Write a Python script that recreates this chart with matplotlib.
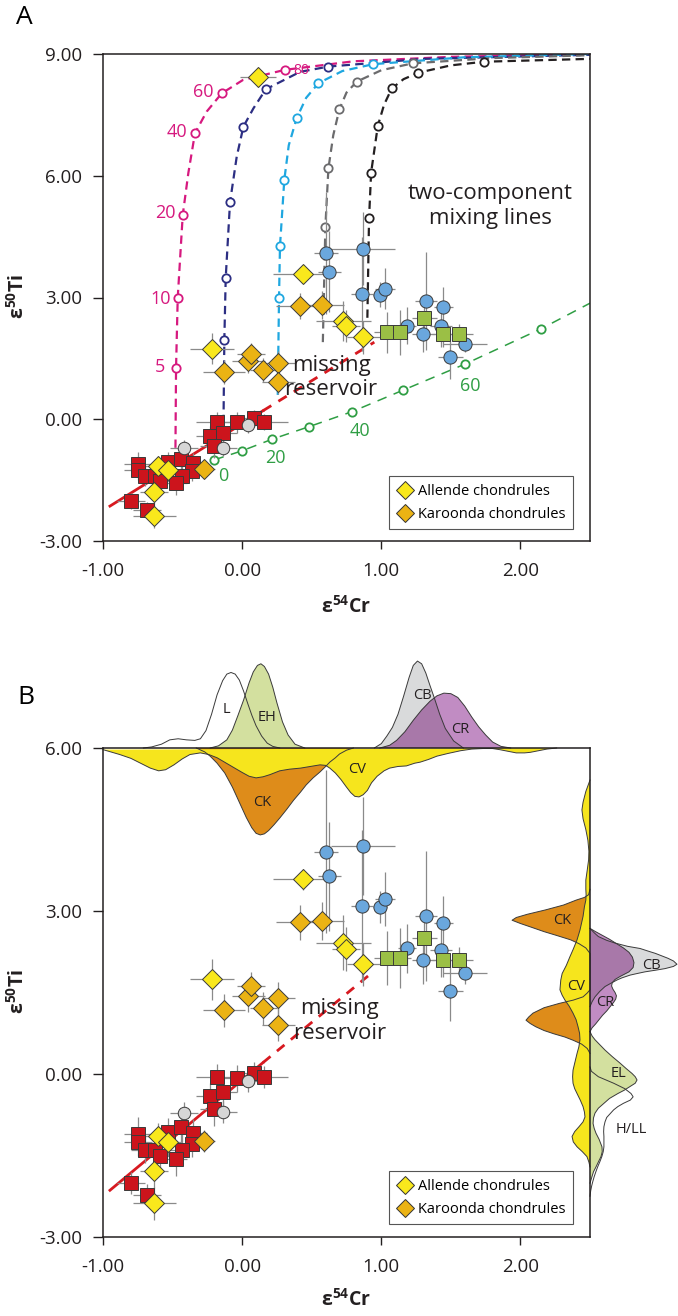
"""Ti-Cr isotope plot of chondrules with mixing lines (A) and marginal densities (B)."""

import matplotlib

matplotlib.use("Agg")
import matplotlib.pyplot as plt
from matplotlib.lines import Line2D
from matplotlib.patches import Polygon
from matplotlib.ticker import FormatStrFormatter
import numpy as np

plt.rcParams["font.family"] = ["Open Sans", "DejaVu Sans"]
plt.rcParams["mathtext.fontset"] = "custom"
plt.rcParams["mathtext.rm"] = "Open Sans"
plt.rcParams["mathtext.bf"] = "Open Sans:bold"
plt.rcParams["axes.unicode_minus"] = False
plt.rcParams["lines.scale_dashes"] = False

# ---- sample data (eps54Cr, eps50Ti) ----
red_x = [-0.183, -0.039, 0.086, 0.160, -0.231, -0.140, -0.200, -0.751, -0.751, -0.698,
         -0.626, -0.590, -0.530, -0.439, -0.355, -0.362, -0.434, -0.475, -0.799, -0.686]
red_y = [-0.06, -0.08, 0.02, -0.06, -0.41, -0.34, -0.65, -1.10, -1.25, -1.39,
         -1.39, -1.51, -1.06, -0.97, -1.08, -1.28, -1.40, -1.57, -2.01, -2.23]
red_xerr = [0.15, 0.15, 0.12, 0.17, 0.10, 0.10, 0.10, 0.10, 0.10, 0.10,
            0.10, 0.10, 0.10, 0.10, 0.10, 0.10, 0.10, 0.08, 0.10, 0.10]
red_yerr = [0.25, 0.25, 0.20, 0.20, 0.25, 0.25, 0.30, 0.30, 0.25, 0.25,
            0.25, 0.30, 0.25, 0.30, 0.25, 0.25, 0.30, 0.30, 0.20, 0.20]

grey_x = [-0.416, -0.140, 0.045]
grey_y = [-0.72, -0.70, -0.13]
grey_xerr = [0.10, 0.10, 0.10]
grey_yerr = [0.20, 0.20, 0.20]

blue_x = [0.603, 0.627, 0.871, 0.864, 0.991, 1.027, 1.320, 1.447, 1.183, 1.430, 1.303, 1.602, 1.495]
blue_y = [4.09, 3.64, 4.20, 3.09, 3.07, 3.22, 2.91, 2.77, 2.31, 2.29, 2.10, 1.86, 1.53]
blue_xerr = [0.084, 0.084, 0.23, 0.08, 0.05, 0.07, 0.08, 0.07, 0.065, 0.08, 0.08, 0.156, 0.09]
blue_yerr = [1.50, 1.00, 0.90, 1.40, 0.30, 0.50, 1.20, 0.50, 0.45, 0.50, 0.45, 0.20, 0.55]

green_x = [1.039, 1.135, 1.308, 1.441, 1.559]
green_y = [2.14, 2.14, 2.50, 2.09, 2.09]
green_xerr = [0.09, 0.08, 0.09, 0.08, 0.10]
green_yerr = [0.50, 0.55, 0.30, 0.30, 0.25]

karoonda_x = [0.416, 0.572, -0.128, 0.045, 0.062, 0.153, 0.260, 0.260, -0.274]
karoonda_y = [2.79, 2.82, 1.17, 1.44, 1.62, 1.21, 1.39, 0.91, -1.23]
karoonda_xerr = [0.17, 0.16, 0.15, 0.12, 0.10, 0.10, 0.12, 0.12, 0.08]
karoonda_yerr = [0.32, 0.35, 0.30, 0.30, 0.25, 0.30, 0.30, 0.30, 0.20]

allende_x = [0.114, 0.440, 0.728, 0.748, 0.872, -0.218, -0.602, -0.530, -0.631, -0.631]
allende_y = [8.44, 3.58, 2.42, 2.30, 2.02, 1.74, -1.15, -1.25, -1.79, -2.38]
allende_xerr = [0.13, 0.215, 0.20, 0.10, 0.12, 0.156, 0.10, 0.10, 0.10, 0.155]
allende_yerr = [0.25, 0.20, 0.50, 0.40, 0.40, 0.38, 0.25, 0.25, 0.30, 0.30]

# regression line through the NC-like chondrules (solid) and its extension (dashed)
red_line_x = [-0.95, 0.15, 0.95]
red_line_y = [-2.14, 0.21, 1.90]

# ---- two-component mixing lines (panel A) ----
pink_path_x = [-0.480, -0.475, -0.463, -0.427, -0.387, -0.339, -0.255, -0.147, 0.006, 0.308, 0.80, 1.50, 2.50]
pink_path_y = [-1.04, 1.27, 2.99, 5.03, 6.06, 7.05, 7.58, 8.03, 8.36, 8.61, 8.82, 8.93, 9.00]
pink_mark_x = [-0.475, -0.463, -0.427, -0.339, -0.147, 0.308]
pink_mark_y = [1.27, 2.99, 5.03, 7.05, 8.03, 8.61]
pink_labels = ["5", "10", "20", "40", "60", "80"]
pink_label_x = [-0.590, -0.583, -0.554, -0.470, -0.279, 0.428]
pink_label_y = [1.28, 2.96, 5.08, 7.09, 8.07, 8.59]

navy_path_x = [-0.135, -0.128, -0.118, -0.087, -0.039, 0.009, 0.081, 0.170, 0.416, 0.620, 1.30, 2.50]
navy_path_y = [-0.43, 1.96, 3.49, 5.35, 6.47, 7.21, 7.66, 8.13, 8.56, 8.69, 8.88, 8.98]
navy_mark_x = [-0.128, -0.118, -0.087, 0.009, 0.170, 0.620]
navy_mark_y = [1.96, 3.49, 5.35, 7.21, 8.13, 8.69]

cyan_path_x = [0.256, 0.265, 0.272, 0.303, 0.335, 0.392, 0.460, 0.548, 0.720, 0.943, 1.60, 2.50]
cyan_path_y = [0.60, 2.98, 4.27, 5.90, 6.75, 7.42, 7.92, 8.28, 8.58, 8.75, 8.92, 9.00]
cyan_mark_x = [0.265, 0.272, 0.303, 0.392, 0.548, 0.943]
cyan_mark_y = [2.98, 4.27, 5.90, 7.42, 8.28, 8.75]

mgrey_path_x = [0.580, 0.598, 0.620, 0.655, 0.699, 0.750, 0.824, 1.000, 1.226, 1.80, 2.50]
mgrey_path_y = [1.90, 4.73, 6.18, 7.00, 7.64, 8.05, 8.32, 8.60, 8.77, 8.90, 8.97]
mgrey_mark_x = [0.598, 0.620, 0.699, 0.824, 1.226]
mgrey_mark_y = [4.73, 6.18, 7.64, 8.32, 8.77]

black_path_x = [0.900, 0.912, 0.927, 0.975, 1.020, 1.075, 1.160, 1.267, 1.500, 1.739, 2.50]
black_path_y = [2.50, 4.95, 6.08, 7.23, 7.75, 8.15, 8.38, 8.54, 8.72, 8.81, 8.88]
black_mark_x = [0.912, 0.927, 0.975, 1.075, 1.267, 1.739]
black_mark_y = [4.95, 6.08, 7.23, 8.15, 8.54, 8.81]

mgreen_mark_x = [-0.200, -0.003, 0.217, 0.483, 0.792, 1.159, 1.602, 2.149]
mgreen_mark_y = [-1.00, -0.78, -0.49, -0.18, 0.19, 0.72, 1.36, 2.23]
mgreen_end = (2.50, 2.86)
mgreen_labels = ["0", "20", "40", "60"]
mgreen_label_x = [-0.139, 0.241, 0.843, 1.638]
mgreen_label_y = [-1.39, -0.96, -0.30, 0.82]

# ---- marginal densities (panel B) ----
# top: x = eps54Cr, h = height above the 6.00 line (upward) or depth below it (downward)
top_L_x = [-0.71, -0.65, -0.58, -0.52, -0.46, -0.40, -0.34, -0.30, -0.26, -0.22, -0.18, -0.14,
           -0.11, -0.08, -0.05, -0.02, 0.01, 0.04, 0.07, 0.10, 0.14, 0.18, 0.22, 0.27]
top_L_h = [0, 0.02, 0.07, 0.15, 0.17, 0.15, 0.14, 0.17, 0.32, 0.62, 0.98, 1.24,
           1.36, 1.39, 1.36, 1.25, 1.05, 0.82, 0.60, 0.41, 0.22, 0.09, 0.03, 0]
top_EH_x = [-0.23, -0.17, -0.11, -0.07, -0.03, 0.01, 0.05, 0.08, 0.11, 0.135, 0.16, 0.19,
            0.22, 0.25, 0.29, 0.33, 0.38, 0.45]
top_EH_h = [0, 0.04, 0.15, 0.33, 0.60, 0.88, 1.20, 1.40, 1.52, 1.55, 1.50, 1.36,
            1.12, 0.83, 0.48, 0.24, 0.07, 0]
top_CB_x = [0.95, 1.00, 1.04, 1.08, 1.12, 1.16, 1.20, 1.23, 1.26, 1.29, 1.32, 1.35,
            1.38, 1.42, 1.46, 1.52, 1.59]
top_CB_h = [0, 0.08, 0.22, 0.38, 0.62, 0.95, 1.30, 1.52, 1.60, 1.55, 1.38, 1.15,
            0.93, 0.62, 0.36, 0.13, 0]
top_CR_x = [0.99, 1.06, 1.11, 1.17, 1.23, 1.29, 1.35, 1.40, 1.45, 1.50, 1.55, 1.60,
            1.65, 1.70, 1.75, 1.80, 1.86, 1.93]
top_CR_h = [0, 0.05, 0.14, 0.30, 0.51, 0.70, 0.86, 0.96, 1.01, 1.00, 0.93, 0.77,
            0.57, 0.39, 0.24, 0.11, 0.03, 0]
top_CV_x = [-1.0, -0.88, -0.80, -0.73, -0.66, -0.60, -0.55, -0.49, -0.43, -0.375, -0.30, -0.24,
            -0.18, -0.12, -0.06, 0.00, 0.05, 0.10, 0.15, 0.20, 0.27, 0.34, 0.42, 0.49,
            0.56, 0.60, 0.63, 0.67, 0.71, 0.75, 0.78, 0.81, 0.84, 0.87, 0.90, 0.93,
            0.97, 1.02, 1.06, 1.12, 1.18, 1.24, 1.28, 1.34, 1.40, 1.48, 1.57, 1.65,
            1.73, 1.80, 1.85, 1.91, 1.97, 2.03, 2.07, 2.13, 2.19, 2.26]
top_CV_d = [0.03, 0.12, 0.19, 0.28, 0.37, 0.42, 0.40, 0.31, 0.20, 0.12, 0.09, 0.12,
            0.18, 0.27, 0.36, 0.45, 0.52, 0.55, 0.53, 0.49, 0.42, 0.39, 0.37, 0.34,
            0.31, 0.32, 0.37, 0.46, 0.58, 0.72, 0.82, 0.89, 0.90, 0.86, 0.78, 0.64,
            0.52, 0.42, 0.37, 0.34, 0.33, 0.28, 0.26, 0.21, 0.15, 0.10, 0.05, 0.02,
            0.01, 0.01, 0.03, 0.06, 0.09, 0.09, 0.08, 0.05, 0.02, 0]
top_CK_x = [-0.33, -0.27, -0.23, -0.18, -0.125, -0.07, -0.02, 0.03, 0.07, 0.10, 0.13, 0.16,
            0.19, 0.23, 0.27, 0.32, 0.37, 0.42, 0.46, 0.51, 0.56, 0.60, 0.63, 0.67,
            0.70, 0.75, 0.80]
top_CK_d = [0, 0.07, 0.15, 0.28, 0.46, 0.72, 1.00, 1.28, 1.47, 1.57, 1.60, 1.58,
            1.52, 1.41, 1.29, 1.13, 0.96, 0.81, 0.68, 0.55, 0.44, 0.34, 0.26, 0.18,
            0.11, 0.04, 0]

# right: y = eps50Ti, w = width beyond the 2.50 line (rightward) or inside it (leftward)
side_CV_y = [5.41, 5.20, 5.00, 4.86, 4.70, 4.50, 4.30, 4.10, 3.94, 3.75, 3.57, 3.40,
             3.30, 3.20, 3.08, 2.90, 2.65, 2.47, 2.30, 2.16, 2.00, 1.85, 1.73, 1.55,
             1.45, 1.36, 1.25, 1.12, 1.00, 0.87, 0.75, 0.63, 0.50, 0.38, 0.20, 0.07,
             -0.05, -0.17, -0.27, -0.36, -0.48, -0.60, -0.70, -0.79, -0.88, -0.97, -1.06, -1.15,
             -1.25, -1.34, -1.43, -1.52, -1.62, -1.71]
side_CV_w = [0, 0.03, 0.05, 0.058, 0.05, 0.03, 0.015, 0.008, 0.01, 0.02, 0.03, 0.03,
             0.028, 0.03, 0.04, 0.05, 0.072, 0.093, 0.12, 0.144, 0.17, 0.20, 0.21, 0.216,
             0.20, 0.18, 0.15, 0.122, 0.10, 0.086, 0.075, 0.072, 0.08, 0.093, 0.11, 0.122,
             0.125, 0.122, 0.11, 0.093, 0.07, 0.05, 0.04, 0.036, 0.05, 0.079, 0.11, 0.129,
             0.12, 0.093, 0.055, 0.022, 0.008, 0]
side_CK_y = [3.40, 3.30, 3.25, 3.20, 3.11, 3.02, 2.94, 2.88, 2.83, 2.77, 2.70, 2.62,
             2.55, 2.47, 2.40, 2.32, 2.22, 1.55, 1.49, 1.42, 1.36, 1.30, 1.22, 1.12,
             1.05, 0.99, 0.93, 0.87, 0.80, 0.74, 0.68, 0.62, 0.55, 0.47, 0.38]
side_CK_w = [0, 0.01, 0.04, 0.10, 0.19, 0.32, 0.45, 0.53, 0.56, 0.50, 0.42, 0.33,
             0.24, 0.14, 0.08, 0.03, 0, 0, 0.02, 0.05, 0.12, 0.22, 0.33, 0.41,
             0.44, 0.46, 0.43, 0.39, 0.33, 0.26, 0.18, 0.12, 0.06, 0.02, 0]
side_CB_y = [2.68, 2.60, 2.53, 2.46, 2.41, 2.35, 2.31, 2.26, 2.22, 2.17, 2.13, 2.08,
             2.02, 1.98, 1.94, 1.91, 1.88, 1.85, 1.82, 1.77, 1.73, 1.67, 1.61, 1.52,
             1.42, 1.33, 1.24]
side_CB_w = [0, 0.03, 0.06, 0.12, 0.18, 0.27, 0.36, 0.42, 0.47, 0.52, 0.56, 0.60,
             0.625, 0.60, 0.54, 0.47, 0.395, 0.34, 0.288, 0.23, 0.194, 0.15, 0.108, 0.07,
             0.036, 0.015, 0]
side_CR_y = [2.68, 2.62, 2.55, 2.48, 2.40, 2.32, 2.24, 2.15, 2.05, 1.96, 1.88, 1.80,
             1.74, 1.68, 1.62, 1.56, 1.50, 1.44, 1.38, 1.32, 1.24, 1.16, 1.08, 1.00,
             0.92, 0.85, 0.78]
side_CR_w = [0, 0.04, 0.09, 0.14, 0.19, 0.24, 0.28, 0.305, 0.316, 0.31, 0.28, 0.22,
             0.18, 0.16, 0.155, 0.165, 0.18, 0.19, 0.185, 0.17, 0.145, 0.12, 0.09, 0.065,
             0.04, 0.015, 0]
side_EL_y = [0.78, 0.70, 0.63, 0.54, 0.44, 0.32, 0.20, 0.10, 0.01, -0.05, -0.11, -0.17,
             -0.23, -0.30, -0.36, -0.45, -0.54, -0.63, -0.72, -0.81, -0.91, -1.00, -1.09, -1.20,
             -1.34, -1.43, -1.52, -1.62, -1.71, -1.80, -1.89, -2.01]
side_EL_w = [0, 0.015, 0.036, 0.07, 0.108, 0.16, 0.216, 0.26, 0.302, 0.325, 0.338, 0.325,
             0.288, 0.245, 0.20, 0.14, 0.10, 0.06, 0.036, 0.025, 0.022, 0.03, 0.043, 0.065,
             0.086, 0.088, 0.079, 0.06, 0.043, 0.025, 0.014, 0]
side_HLL_y = [0.13, 0.05, -0.05, -0.17, -0.27, -0.36, -0.42, -0.48, -0.54, -0.60, -0.66, -0.73,
              -0.80, -0.88, -0.97, -1.06, -1.15, -1.25, -1.34, -1.43, -1.52, -1.62, -1.71, -1.80,
              -1.89, -1.98, -2.06, -2.15, -2.25]
side_HLL_w = [0, 0.01, 0.06, 0.17, 0.25, 0.295, 0.31, 0.29, 0.24, 0.20, 0.17, 0.145,
              0.12, 0.108, 0.10, 0.098, 0.10, 0.10, 0.10, 0.095, 0.085, 0.07, 0.055, 0.042,
              0.03, 0.02, 0.012, 0.005, 0]

XTICKS = [-1, 0, 1, 2]

RED = "#cc141c"
GREY_PT = "#d6d6d6"
BLUE = "#6aa7dd"
GREEN_SQ = "#9bbf45"
KAROONDA = "#ebb314"
ALLENDE = "#f9e81c"
PINK = "#d6197f"
NAVY = "#2c2e83"
CYAN = "#1fa7e0"
MGREY = "#6b6b6d"
MBLACK = "#231f20"
MGREEN = "#2f9e44"
CV_YELLOW = "#f6e51d"
CK_ORANGE = "#de8c1a"
PALE_GREEN = "#d3e09f"
CB_GREY = "#d9dadb"
CR_LIGHT = "#c18cc3"
CR_DARK = "#a878a9"
INK = "#231f20"


def style_axes(ax, ylim, yticks):
    ax.set_xlim(-1, 2.5)
    ax.set_ylim(*ylim)
    ax.set_xticks(XTICKS)
    ax.set_yticks(yticks)
    ax.xaxis.set_major_formatter(FormatStrFormatter("%.2f"))
    ax.yaxis.set_major_formatter(FormatStrFormatter("%.2f"))
    ax.tick_params(axis="both", direction="out", width=1.0, labelsize=13.5,
                   colors=INK, top=False, right=False)
    ax.tick_params(axis="x", length=6, pad=9)
    ax.tick_params(axis="y", length=7, pad=8)
    for spine in ax.spines.values():
        spine.set_linewidth(1.1)
        spine.set_color(INK)


def draw_points(ax):
    groups = [
        (red_x, red_y, red_xerr, red_yerr, "s", 9.4, RED),
        (grey_x, grey_y, grey_xerr, grey_yerr, "o", 9.0, GREY_PT),
        (blue_x, blue_y, blue_xerr, blue_yerr, "o", 9.5, BLUE),
        (green_x, green_y, green_xerr, green_yerr, "s", 9.5, GREEN_SQ),
        (karoonda_x, karoonda_y, karoonda_xerr, karoonda_yerr, "D", 10.0, KAROONDA),
        (allende_x, allende_y, allende_xerr, allende_yerr, "D", 10.0, ALLENDE),
    ]
    for x, y, xe, ye, *_ in groups:
        ax.errorbar(x, y, xerr=xe, yerr=ye, fmt="none", ecolor="#8a8a8a",
                    elinewidth=0.9, capsize=0, zorder=2.4)
    for x, y, _, _, marker, size, color in groups:
        ax.plot(x, y, ls="none", marker=marker, ms=size, mfc=color,
                mec="#3a3a3a", mew=0.7, zorder=3)
    ax.plot(red_line_x[:2], red_line_y[:2], color="#d71920", lw=2.0, zorder=2.2)
    ax.plot(red_line_x[1:], red_line_y[1:], color="#d71920", lw=2.0,
            dashes=(7, 6), zorder=2.2)


def add_legend(ax, y_anchor):
    handles = [
        Line2D([], [], ls="none", marker="D", ms=9, mfc=ALLENDE, mec="#333333", mew=0.7),
        Line2D([], [], ls="none", marker="D", ms=9, mfc=KAROONDA, mec="#333333", mew=0.7),
    ]
    leg = ax.legend(handles, ["Allende chondrules", "Karoonda chondrules"],
                    loc="lower right", bbox_to_anchor=(0.965, y_anchor),
                    frameon=True, fancybox=False, edgecolor="#555555", framealpha=1,
                    fontsize=10.5, handletextpad=0.3, borderpad=0.5,
                    labelspacing=0.55, handlelength=1.2, borderaxespad=0)
    leg.get_frame().set_linewidth(0.8)


def draw_mixing(ax):
    lines = [
        (pink_path_x, pink_path_y, pink_mark_x, pink_mark_y, PINK),
        (navy_path_x, navy_path_y, navy_mark_x, navy_mark_y, NAVY),
        (cyan_path_x, cyan_path_y, cyan_mark_x, cyan_mark_y, CYAN),
        (mgrey_path_x, mgrey_path_y, mgrey_mark_x, mgrey_mark_y, MGREY),
        (black_path_x, black_path_y, black_mark_x, black_mark_y, MBLACK),
    ]
    for px, py, mx, my, color in lines:
        ax.plot(px, py, color=color, lw=1.6, dashes=(6, 3.8), zorder=1.6)
        ax.plot(mx, my, ls="none", marker="o", ms=6, mfc="white", mec=color,
                mew=1.3, zorder=1.8)
    ax.plot(mgreen_mark_x + [mgreen_end[0]], mgreen_mark_y + [mgreen_end[1]],
            color=MGREEN, lw=1.1, dashes=(7, 5.5), zorder=1.6)
    ax.plot(mgreen_mark_x, mgreen_mark_y, ls="none", marker="o", ms=6,
            mfc="white", mec=MGREEN, mew=1.3, zorder=1.8)
    for text, x, y in zip(pink_labels, pink_label_x, pink_label_y):
        ax.text(x, y, text, color=PINK, ha="center", va="center",
                fontsize=10 if text == "80" else 13)
    for text, x, y in zip(mgreen_labels, mgreen_label_x, mgreen_label_y):
        ax.text(x, y, text, color=MGREEN, ha="center", va="center", fontsize=13)


def kde_patch(ax, verts, color, z):
    patch = Polygon(verts, closed=True, facecolor=color, edgecolor="none",
                    zorder=z, clip_on=False)
    ax.add_patch(patch)
    return patch


def kde_outline(ax, xs, ys):
    ax.plot(xs, ys, color="#3a3a3a", lw=0.7, zorder=1.9, clip_on=False)


def draw_marginals(ax):
    top = 6.0
    edge = 2.5

    def up(xs, hs):
        return list(zip(xs, top + np.asarray(hs)))

    def down(xs, ds):
        return list(zip(xs, top - np.asarray(ds)))

    def right(ys, ws):
        return list(zip(edge + np.asarray(ws), ys))

    def left(ys, ws):
        return list(zip(edge - np.asarray(ws), ys))

    # top margin
    kde_patch(ax, up(top_L_x, top_L_h), "white", 1.0)
    kde_patch(ax, up(top_EH_x, top_EH_h), PALE_GREEN, 1.1)
    cb_top = kde_patch(ax, up(top_CB_x, top_CB_h), CB_GREY, 1.0)
    kde_patch(ax, up(top_CR_x, top_CR_h), CR_LIGHT, 1.1)
    overlap = kde_patch(ax, up(top_CR_x, top_CR_h), CR_DARK, 1.2)
    overlap.set_clip_on(True)
    overlap.set_clip_box(None)
    overlap.set_clip_path(cb_top)
    kde_patch(ax, down(top_CK_x, top_CK_d), CK_ORANGE, 1.0)
    kde_patch(ax, down(top_CV_x, top_CV_d), CV_YELLOW, 1.1)

    # right margin
    kde_patch(ax, left(side_CK_y, side_CK_w), CK_ORANGE, 1.0)
    kde_patch(ax, left(side_CV_y, side_CV_w), CV_YELLOW, 1.1)
    cb_side = kde_patch(ax, right(side_CB_y, side_CB_w), CB_GREY, 1.0)
    kde_patch(ax, right(side_CR_y, side_CR_w), CR_LIGHT, 1.1)
    overlap = kde_patch(ax, right(side_CR_y, side_CR_w), CR_DARK, 1.2)
    overlap.set_clip_on(True)
    overlap.set_clip_box(None)
    overlap.set_clip_path(cb_side)
    kde_patch(ax, right(side_HLL_y, side_HLL_w), "white", 1.0)
    kde_patch(ax, right(side_EL_y, side_EL_w), PALE_GREEN, 1.1)

    for verts in (up(top_L_x, top_L_h), up(top_EH_x, top_EH_h), up(top_CB_x, top_CB_h),
                  up(top_CR_x, top_CR_h), down(top_CK_x, top_CK_d), down(top_CV_x, top_CV_d),
                  left(side_CK_y, side_CK_w), left(side_CV_y, side_CV_w),
                  right(side_CB_y, side_CB_w), right(side_CR_y, side_CR_w),
                  right(side_HLL_y, side_HLL_w), right(side_EL_y, side_EL_w)):
        xs, ys = zip(*verts)
        kde_outline(ax, xs, ys)

    labels = [("L", -0.111, 6.70), ("EH", 0.177, 6.56), ("CB", 1.298, 6.96),
              ("CR", 1.567, 6.34), ("CV", 0.824, 5.60), ("CK", 0.141, 4.99),
              ("CK", 2.297, 2.82), ("CB", 2.94, 2.00), ("CV", 2.40, 1.61),
              ("CR", 2.609, 1.32), ("EL", 2.705, 0.01), ("H/LL", 2.80, -1.03)]
    for text, x, y in labels:
        ax.text(x, y, text, ha="center", va="center", fontsize=10.5,
                color=INK, zorder=2.0, clip_on=False)


fig = plt.figure(figsize=(6.78, 13.16), dpi=100)
W, H = 678.0, 1316.0
ax_a = fig.add_axes([103 / W, 1 - 541 / H, 487 / W, 487 / H])
ax_b = fig.add_axes([103 / W, 1 - 1237 / H, 487 / W, 489 / H])

# panel A
style_axes(ax_a, (-3, 9), [-3, 0, 3, 6, 9])
draw_mixing(ax_a)
draw_points(ax_a)
add_legend(ax_a, 12 / 487)
ax_a.text(1.782, 5.26, "two-component\nmixing lines", ha="center", va="center",
          fontsize=16, color=INK, linespacing=1.25)
ax_a.text(0.639, 1.02, "missing\nreservoir", ha="center", va="center",
          fontsize=16, color=INK, linespacing=1.2)

# panel B
style_axes(ax_b, (-3, 6), [-3, 0, 3, 6])
draw_marginals(ax_b)
draw_points(ax_b)
add_legend(ax_b, 13 / 489)
ax_b.text(0.700, 0.975, "missing\nreservoir", ha="center", va="center",
          fontsize=16, color=INK, linespacing=1.2)

for ypix_y, ypix_x in ((297, 607), (992, 1300)):
    fig.text(18 / W, 1 - ypix_y / H, r"ε$^{\mathbf{50}}$Ti", rotation=90, ha="center",
             va="center", fontsize=14, fontweight="bold", color=INK)
    fig.text(346 / W, 1 - ypix_x / H, r"ε$^{\mathbf{54}}$Cr", ha="center",
             va="center", fontsize=14, fontweight="bold", color=INK)

fig.text(24 / W, 1 - 18 / H, "A", ha="center", va="center", fontsize=19, color="black")
fig.text(26 / W, 1 - 697 / H, "B", ha="center", va="center", fontsize=19, color="black")

fig.savefig("out.png", dpi=100)
